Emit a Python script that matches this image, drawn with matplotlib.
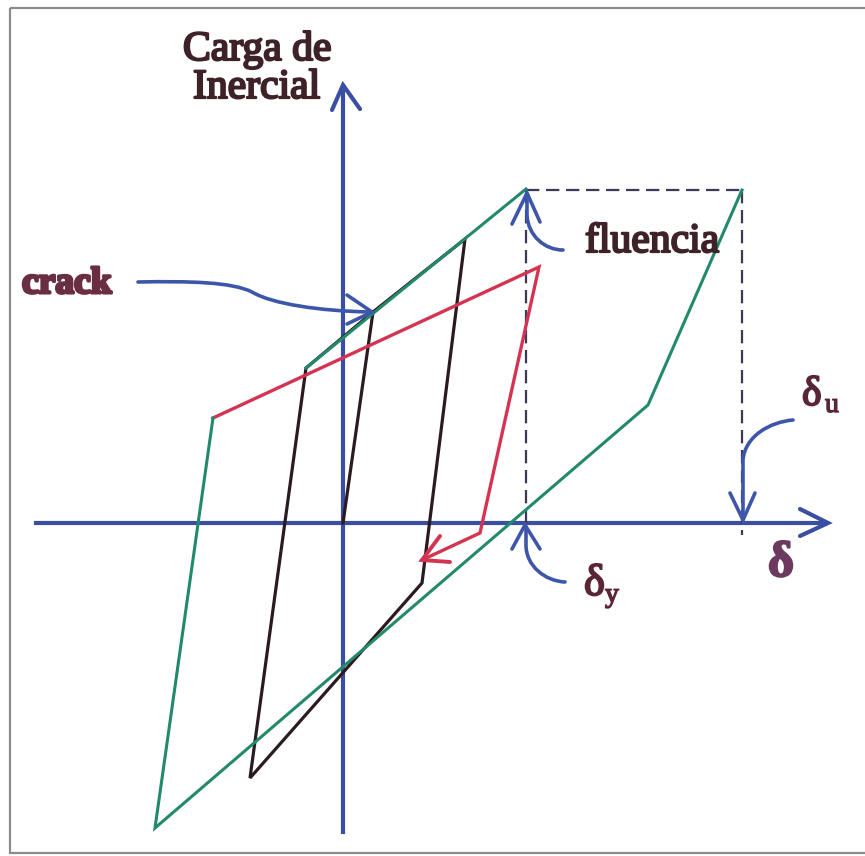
import matplotlib
matplotlib.use("Agg")
import matplotlib.pyplot as plt
from matplotlib.path import Path
from matplotlib.patches import PathPatch, Rectangle
import matplotlib.patheffects as pe

# everything is in picture pixels: x to the right, y downwards
W, H = 865, 856

# hysteresis branches
green_up_x = [306, 526]
green_up_y = [368, 189]
green_loop_x = [742, 648, 155, 213]
green_loop_y = [190, 405, 828, 418]
black_x = [343, 373, 465, 422, 250, 306, 373]
black_y = [523, 312, 239, 583, 778, 368, 312]
red_x = [213, 539, 480, 422]
red_y = [418, 267, 533, 560]

# yield / ultimate construction lines
d_y, d_u, f_top = 526, 742, 190
origin = (343, 523)

BLUE = "#3b4fa2"
ARROW = "#3d56aa"
GREEN = "#23896c"
RED = "#d43452"
BLACK = "#2b1a1e"
DASH = "#3a3a58"
TXT = "#3e2228"
MAROON = "#6a2e42"

fig = plt.figure(figsize=(W / 100, H / 100), dpi=100)
ax = fig.add_axes([0, 0, 1, 1])
ax.set_xlim(0, W)
ax.set_ylim(H, 0)
ax.axis("off")

# frame
ax.add_patch(Rectangle((10, 8), 860, 845, fill=False, ec="#8c8c8c", lw=1.6))


def chevron(tip, w1, w2, color, lw):
    ax.plot([w1[0], tip[0], w2[0]], [w1[1], tip[1], w2[1]], color=color,
            lw=lw, solid_capstyle="round", solid_joinstyle="miter", zorder=6)


# axes
ox, oy = origin
ax.plot([36, 826], [oy, oy], color=BLUE, lw=3.0, zorder=1)
ax.plot([ox, ox], [832, 87], color=BLUE, lw=3.0, zorder=1)
chevron((828, oy), (800, 509), (800, 536), BLUE, 3.0)
chevron((ox, 85), (332, 110), (360, 109), BLUE, 3.0)

# dashed lines
dash = dict(color=DASH, lw=1.6, ls=(0, (6, 3)), zorder=2)
ax.plot([d_y, d_u], [f_top, f_top], **dash)
ax.plot([d_y, d_y], [f_top, oy], **dash)
ax.plot([d_u, d_u], [f_top, 535], **dash)

# loops
ax.plot(black_x, black_y, color=BLACK, lw=2.3, zorder=3, solid_joinstyle="miter")
ax.plot(red_x, red_y, color=RED, lw=2.4, zorder=4, solid_joinstyle="miter")
chevron((red_x[-1], red_y[-1]), (440, 536), (450, 562), RED, 2.8)
ax.plot(green_up_x, green_up_y, color=GREEN, lw=2.2, zorder=5)
ax.plot(green_loop_x, green_loop_y, color=GREEN, lw=2.2, zorder=5,
        solid_joinstyle="miter")


def curve(verts, codes, color=ARROW, lw=2.6):
    p = PathPatch(Path(verts, codes), fill=False, ec=color, lw=lw,
                  capstyle="round", zorder=6)
    ax.add_patch(p)


M, C, L = Path.MOVETO, Path.CURVE4, Path.LINETO

# crack arrow
curve([(138, 282), (190, 281), (232, 282), (252, 292),
       (272, 304), (320, 311), (370, 312)],
      [M, C, C, C, C, C, C])
chevron((372, 312), (347, 295), (347, 324), ARROW, 2.6)

# fluencia arrow
curve([(563, 250), (545, 250), (528, 236), (527, 215), (527, 195)],
      [M, C, C, C, L])
chevron((527, 193), (512, 224), (540, 222), ARROW, 2.6)

# d_y arrow
curve([(526, 527), (526, 545), (526, 566), (545, 581), (565, 582)],
      [M, L, C, C, C])
chevron((525, 525), (512, 549), (540, 549), ARROW, 2.6)

# d_u arrow
curve([(793, 420), (770, 422), (745, 436), (743, 460), (743, 518)],
      [M, C, C, C, L])
chevron((743, 520), (730, 493), (755, 493), ARROW, 2.6)


def label(x, y, s, size, color, weight="normal", stroke=1.0):
    ax.text(x, y, s, fontsize=size, color=color, fontweight=weight,
            family=["Liberation Serif", "DejaVu Serif"], ha="left",
            va="baseline", zorder=7,
            path_effects=[pe.withStroke(linewidth=stroke, foreground=color)])


label(183, 60, "Carga de", 30, TXT, stroke=1.6)
label(193, 98, "Inercial", 30, TXT, stroke=1.6)
label(22, 293, "crack", 27, MAROON, weight="bold", stroke=2.2)
label(585, 252, "fluencia", 30, TXT, stroke=1.6)
label(584, 595, "δ", 32, "#5a2535", stroke=1.4)
label(605, 602, "y", 20, "#5a2535", stroke=1.0)
label(802, 405, "δ", 30, "#5a2535", stroke=1.4)
label(825, 412, "u", 20, "#5a2535", stroke=1.0)
label(768, 576, "δ", 36, "#6b3a5e", weight="bold", stroke=1.6)

fig.savefig("out.png", dpi=100)
